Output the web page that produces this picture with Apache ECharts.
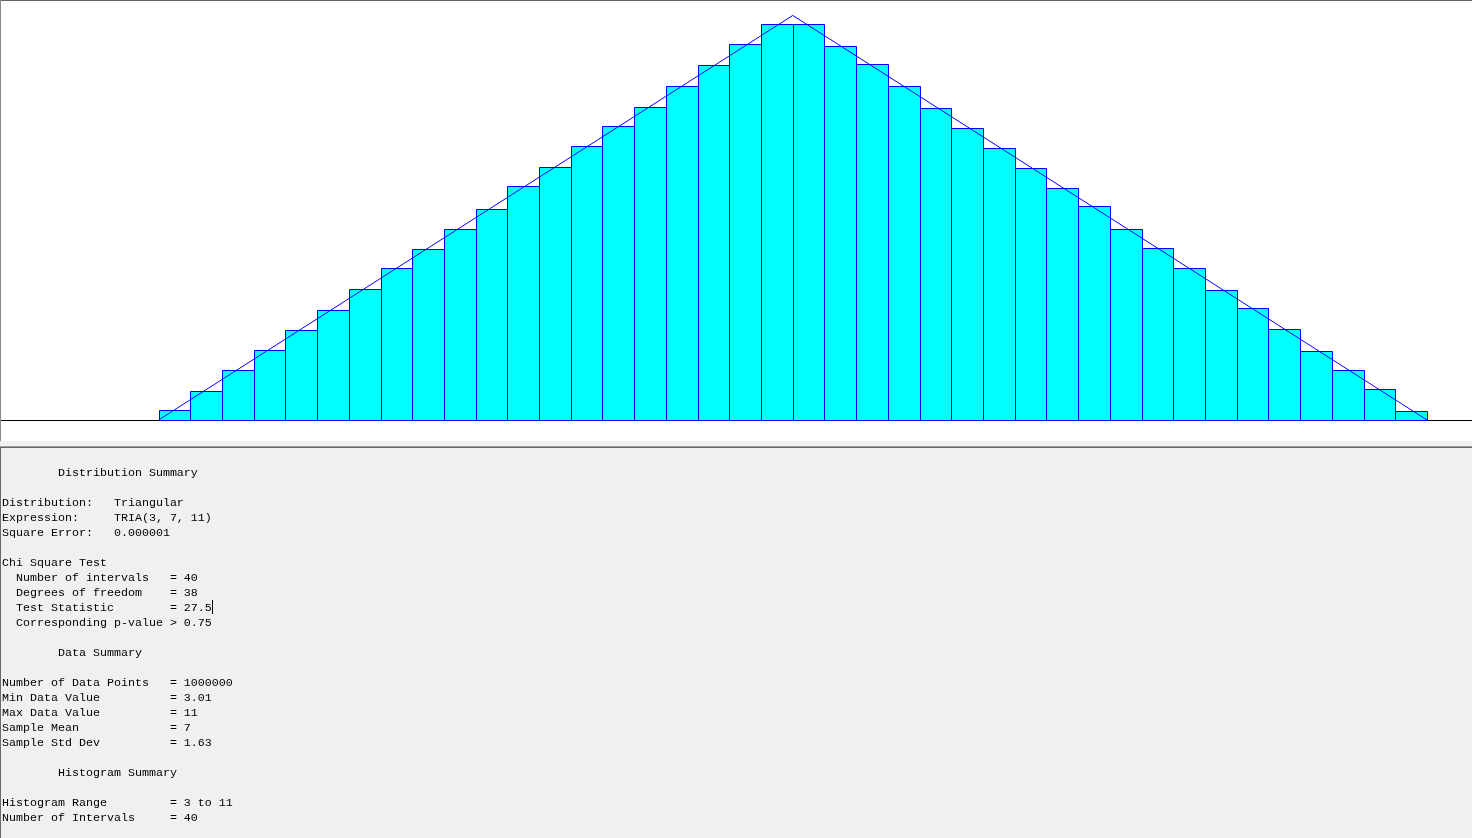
<!DOCTYPE html>
<html>
<head>
<meta charset="utf-8">
<script src="https://cdn.jsdelivr.net/npm/echarts@6/dist/echarts.min.js"></script>
<style>
html,body{margin:0;padding:0;background:#ffffff;overflow:hidden;}
#chart{width:1472px;height:838px;}
</style>
</head>
<body>
<div id="chart"></div>
<script>
// Histogram range and intervals (from the summary)
const histMin = 3;
const histMax = 11;
const intervalCount = 40;

// Relative frequency of each interval
const frequencies = [
  0.0012, 0.0036, 0.0061, 0.0086, 0.0111, 0.0135, 0.0161, 0.0187, 0.0210, 0.0235,
  0.0259, 0.0287, 0.0311, 0.0336, 0.0361, 0.0384, 0.0410, 0.0436, 0.0462, 0.0487,
  0.0486, 0.0460, 0.0437, 0.0410, 0.0383, 0.0359, 0.0334, 0.0309, 0.0285, 0.0263,
  0.0235, 0.0211, 0.0187, 0.0160, 0.0138, 0.0112, 0.0085, 0.0061, 0.0038, 0.0011
];

// Fitted triangular density line (x, height)
const fitX = [3, 7, 11];
const fitY = [0, 0.0497, 0];

// Summary text panel
const summaryLines = [
  "        Distribution Summary",
  "",
  "Distribution:   Triangular",
  "Expression:     TRIA(3, 7, 11)",
  "Square Error:   0.000001",
  "",
  "Chi Square Test",
  "  Number of intervals   = 40",
  "  Degrees of freedom    = 38",
  "  Test Statistic        = 27.5",
  "  Corresponding p-value > 0.75",
  "",
  "        Data Summary",
  "",
  "Number of Data Points   = 1000000",
  "Min Data Value          = 3.01",
  "Max Data Value          = 11",
  "Sample Mean             = 7",
  "Sample Std Dev          = 1.63",
  "",
  "        Histogram Summary",
  "",
  "Histogram Range         = 3 to 11",
  "Number of Intervals     = 40"
];

const binWidth = (histMax - histMin) / intervalCount;
const barData = frequencies.map((f, i) => [histMin + i * binWidth, histMin + (i + 1) * binWidth, f]);
const lineData = fitX.map((x, i) => [x, fitY[i]]);

const chart = echarts.init(document.getElementById('chart'), null, {renderer: 'canvas'});

const mono = "'Liberation Mono', 'Courier New', monospace";
const textEls = summaryLines.map((s, i) => ({
  type: 'text',
  x: 2,
  y: 473 + i * 15,
  silent: true,
  style: {
    text: s,
    fill: '#000000',
    font: '11.67px ' + mono,
    verticalAlign: 'middle',
    align: 'left'
  },
  z: 10
}));

const option = {
  animation: false,
  backgroundColor: '#ffffff',
  grid: {left: 0, right: 0, top: 13, bottom: 418, containLabel: false},
  xAxis: {
    type: 'value',
    min: 2.0,
    max: 11.284,
    axisLine: {show: true, onZero: false, lineStyle: {color: '#000000', width: 1}},
    axisTick: {show: false},
    axisLabel: {show: false},
    splitLine: {show: false}
  },
  yAxis: {
    type: 'value',
    min: 0,
    max: 0.05,
    show: false,
    splitLine: {show: false}
  },
  series: [
    {
      type: 'custom',
      data: barData,
      z: 2,
      renderItem: function (params, api) {
        const p0 = api.coord([api.value(0), api.value(2)]);
        const p1 = api.coord([api.value(1), 0]);
        const x0 = Math.round(p0[0]) + 0.5;
        const x1 = Math.round(p1[0]) + 0.5;
        const y0 = Math.round(p0[1]) + 0.5;
        const y1 = Math.round(p1[1]) + 0.5;
        return {
          type: 'rect',
          shape: {x: x0, y: y0, width: x1 - x0, height: y1 - y0},
          style: {fill: '#00FFFF', stroke: '#0000FF', lineWidth: 1}
        };
      }
    },
    {
      type: 'line',
      data: lineData,
      z: 5,
      symbol: 'none',
      lineStyle: {color: '#0000FF', width: 1},
      silent: true
    }
  ],
  graphic: [
    {type: 'rect', shape: {x: 0, y: 441, width: 1472, height: 397}, style: {fill: '#f0f0f0'}, z: 1, silent: true},
    {type: 'rect', shape: {x: 0, y: 446, width: 1472, height: 1}, style: {fill: '#a0a0a0'}, z: 1, silent: true},
    {type: 'rect', shape: {x: 0, y: 447, width: 1472, height: 1}, style: {fill: '#696969'}, z: 1, silent: true},
    {type: 'line', shape: {x1: 0, y1: 0.5, x2: 1472, y2: 0.5}, style: {stroke: '#646464', lineWidth: 1}, z: 20, silent: true},
    {type: 'line', shape: {x1: 0.5, y1: 0, x2: 0.5, y2: 441}, style: {stroke: '#8a8a8a', lineWidth: 1}, z: 20, silent: true},
    {type: 'line', shape: {x1: 0.5, y1: 447, x2: 0.5, y2: 838}, style: {stroke: '#696969', lineWidth: 1}, z: 20, silent: true},
    {type: 'line', shape: {x1: 212.5, y1: 600, x2: 212.5, y2: 614}, style: {stroke: '#000000', lineWidth: 1}, z: 20, silent: true}
  ].concat(textEls)
};

chart.setOption(option);
</script>
</body>
</html>
